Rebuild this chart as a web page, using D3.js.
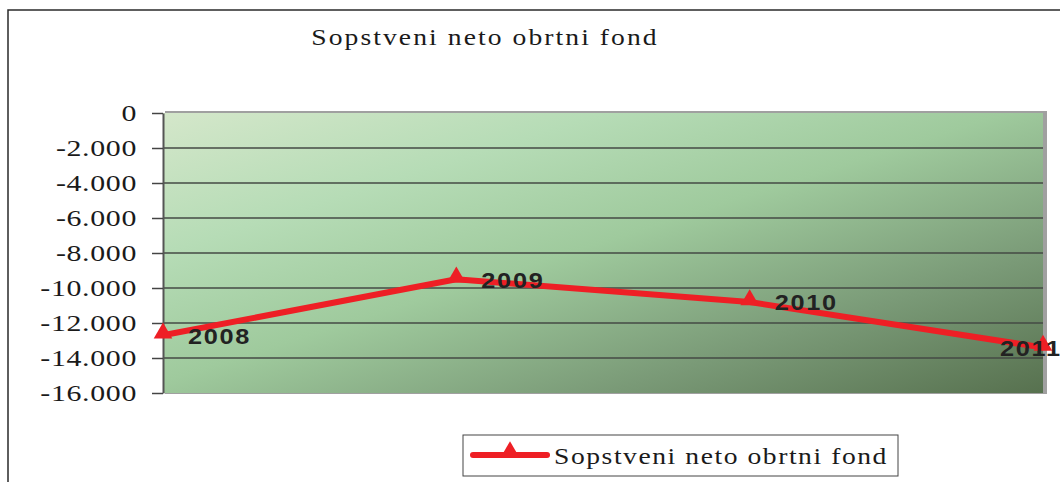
<!DOCTYPE html>
<html>
<head>
<meta charset="utf-8">
<script src="https://cdn.jsdelivr.net/npm/d3@7"></script>
<style>
  html, body { margin: 0; padding: 0; background: #fff; overflow: hidden; }
  svg { display: block; }
</style>
</head>
<body>
<div id="chart"></div>
<script>
const years = ['2008', '2009', '2010', '2011'];
const values = [-12700, -9500, -10800, -13400];
const yTicks = [0, -2000, -4000, -6000, -8000, -10000, -12000, -14000, -16000];
const seriesName = 'Sopstveni neto obrtni fond';
const chartTitle = 'Sopstveni neto obrtni fond';

const W = 1060, H = 482;
const plot = { left: 163, right: 1043, top: 113, bottom: 393 };
const red = '#ee1f25';
const serif = '"Liberation Serif", "Times New Roman", serif';
const stretch = 1.15; // the original fonts are rendered wide

const svg = d3.select('#chart').append('svg')
  .attr('width', W)
  .attr('height', H);

// outer chart frame (cut off at right and bottom)
svg.append('path')
  .attr('d', `M8,${H} L8,10 L${W},10`)
  .attr('fill', 'none')
  .attr('stroke', '#2a2a2a')
  .attr('stroke-width', 1.5);

const defs = svg.append('defs');
const grad = defs.append('linearGradient')
  .attr('id', 'bg')
  .attr('x1', 0).attr('y1', 0)
  .attr('x2', 1).attr('y2', 1);
grad.append('stop').attr('offset', '0%').attr('stop-color', '#d4e7ca');
grad.append('stop').attr('offset', '25%').attr('stop-color', '#b6dcb6');
grad.append('stop').attr('offset', '48%').attr('stop-color', '#9fca9d');
grad.append('stop').attr('offset', '75%').attr('stop-color', '#7a9a77');
grad.append('stop').attr('offset', '100%').attr('stop-color', '#57714f');

const x = d3.scalePoint()
  .domain(years)
  .range([plot.left, plot.right]);

const y = d3.scaleLinear()
  .domain([-16000, 0])
  .range([plot.bottom, plot.top]);

// plot area with grey shadow edge
svg.append('rect')
  .attr('x', plot.left + 2).attr('y', plot.top - 2)
  .attr('width', plot.right - plot.left + 2)
  .attr('height', plot.bottom - plot.top + 3)
  .attr('fill', '#a0a0a0');
svg.append('rect')
  .attr('x', plot.left).attr('y', plot.top)
  .attr('width', plot.right - plot.left)
  .attr('height', plot.bottom - plot.top)
  .attr('fill', 'url(#bg)');

// gridlines
svg.append('g')
  .selectAll('line')
  .data(yTicks.filter(d => d !== 0 && d !== -16000))
  .join('line')
  .attr('x1', plot.left).attr('x2', plot.right)
  .attr('y1', d => y(d)).attr('y2', d => y(d))
  .attr('stroke', '#454a45')
  .attr('stroke-width', 1.6);

// y axis
const fmt = d => d === 0 ? '0' : d3.format(',')(d).replace(/,/g, '.').replace('−', '-');
const yAxis = svg.append('g')
  .attr('transform', `translate(${plot.left},0)`)
  .call(d3.axisLeft(y).tickValues(yTicks).tickSize(11).tickSizeOuter(0).tickFormat(fmt));
yAxis.select('.domain').attr('stroke', '#555').attr('stroke-width', 2);
yAxis.selectAll('.tick line').attr('stroke', '#444').attr('stroke-width', 1.5);
yAxis.selectAll('.tick text')
  .attr('x', 0)
  .attr('transform', 'translate(-26,0) scale(1.3,1)')
  .attr('fill', '#1a1a1a')
  .style('font-family', serif)
  .style('font-size', '23px')
  .style('letter-spacing', '0.5px');

// title
svg.append('text')
  .attr('transform', `translate(485,45) scale(${stretch},1)`)
  .attr('text-anchor', 'middle')
  .style('font-family', serif)
  .style('font-size', '24px')
  .style('letter-spacing', '1.8px')
  .attr('fill', '#1a1a1a')
  .text(chartTitle);

// line
const pts = years.map((d, i) => ({ year: d, value: values[i] }));
const line = d3.line().x(d => x(d.year)).y(d => y(d.value));

svg.append('path')
  .datum(pts)
  .attr('d', line)
  .attr('fill', 'none')
  .attr('stroke', red)
  .attr('stroke-width', 6)
  .attr('stroke-linejoin', 'round');

const tri = d3.symbol().type(d3.symbolTriangle).size(150);
svg.append('g')
  .selectAll('path')
  .data(pts)
  .join('path')
  .attr('transform', d => `translate(${x(d.year)},${y(d.value) - 2})`)
  .attr('d', tri)
  .attr('fill', red);

// data labels (the last one sits left of its point, as in the original)
svg.append('g')
  .selectAll('text')
  .data(pts)
  .join('text')
  .attr('transform', (d, i) => {
    const tx = i === pts.length - 1 ? x(d.year) - 43 : x(d.year) + 25;
    return `translate(${tx},${y(d.value)}) scale(${stretch},1)`;
  })
  .attr('dy', '0.38em')
  .style('font-family', '"Liberation Sans", Arial, sans-serif')
  .style('font-weight', 'bold')
  .style('font-size', '22px')
  .style('letter-spacing', '1.5px')
  .attr('fill', '#222')
  .text(d => d.year);

// legend
const lg = svg.append('g').attr('transform', 'translate(463,435)');
lg.append('rect')
  .attr('width', 435).attr('height', 41)
  .attr('fill', '#fff')
  .attr('stroke', '#444')
  .attr('stroke-width', 1);
lg.append('line')
  .attr('x1', 10).attr('x2', 84)
  .attr('y1', 20).attr('y2', 20)
  .attr('stroke', red)
  .attr('stroke-width', 6)
  .attr('stroke-linecap', 'round');
lg.append('path')
  .attr('transform', 'translate(47,17)')
  .attr('d', tri)
  .attr('fill', red);
lg.append('text')
  .attr('transform', `translate(91,29) scale(${stretch},1)`)
  .style('font-family', serif)
  .style('font-size', '24px')
  .style('letter-spacing', '1.35px')
  .attr('fill', '#1a1a1a')
  .text(seriesName);
</script>
</body>
</html>
